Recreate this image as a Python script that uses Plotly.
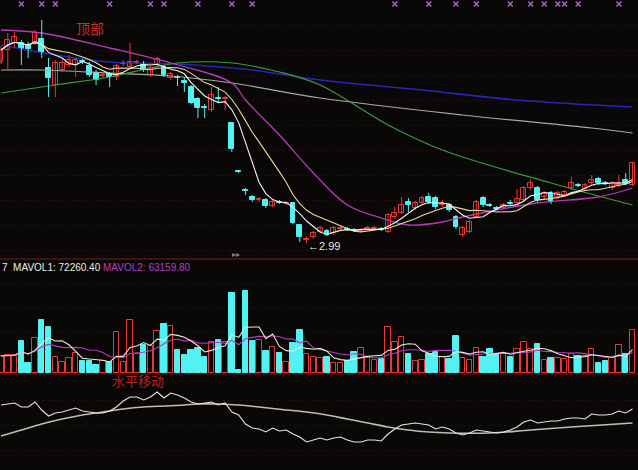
import plotly.graph_objects as go
import pandas as pd

# ---------------- data ----------------
days = list(range(94))

open_ = [4.80, 4.92, 4.99, 4.99, 4.97, 4.99, 5.03, 4.74, 4.57, 4.72,
         4.77, 4.77, 4.81, 4.76, 4.69, 4.66, 4.68, 4.65, 4.78, 4.75,
         4.79, 4.78, 4.67, 4.77, 4.75, 4.64, 4.65, 4.61, 4.55, 4.43,
         4.35, 4.32, 4.44, 4.43, 4.19, 3.71, 3.52, 3.45, 3.42, 3.42,
         3.36, 3.40, 3.38, 3.39, 3.17, 3.02, 3.05, 3.10, 3.11, 3.09,
         3.13, 3.13, 3.12, 3.11, 3.13, 3.13, 3.13, 3.10, 3.25, 3.29,
         3.40, 3.34, 3.39, 3.45, 3.44, 3.37, 3.37, 3.25, 3.07, 3.10,
         3.25, 3.44, 3.37, 3.34, 3.34, 3.39, 3.39, 3.42, 3.54, 3.54,
         3.45, 3.49, 3.45, 3.47, 3.54, 3.57, 3.53, 3.59, 3.63, 3.59,
         3.54, 3.57, 3.62, 3.57]
high = [4.96, 5.09, 5.10, 5.02, 5.00, 5.12, 5.22, 4.84, 4.82, 4.82,
        4.87, 4.84, 4.83, 4.80, 4.72, 4.70, 4.70, 4.78, 4.82, 4.99,
        4.82, 4.81, 4.76, 4.85, 4.77, 4.70, 4.67, 4.64, 4.57, 4.45,
        4.38, 4.55, 4.55, 4.46, 4.20, 3.71, 3.54, 3.47, 3.45, 3.44,
        3.42, 3.42, 3.41, 3.40, 3.18, 3.06, 3.11, 3.16, 3.13, 3.16,
        3.16, 3.15, 3.14, 3.13, 3.16, 3.16, 3.15, 3.29, 3.35, 3.45,
        3.44, 3.41, 3.46, 3.49, 3.46, 3.42, 3.39, 3.27, 3.16, 3.22,
        3.42, 3.46, 3.39, 3.36, 3.39, 3.42, 3.53, 3.56, 3.63, 3.56,
        3.51, 3.51, 3.51, 3.52, 3.65, 3.59, 3.59, 3.67, 3.65, 3.61,
        3.61, 3.67, 3.69, 3.80]
low = [4.78, 4.72, 4.94, 4.77, 4.84, 4.97, 4.84, 4.45, 4.45, 4.70,
       4.75, 4.65, 4.78, 4.65, 4.57, 4.64, 4.55, 4.62, 4.76, 4.74,
       4.78, 4.70, 4.65, 4.75, 4.65, 4.62, 4.56, 4.50, 4.38, 4.24,
       4.24, 4.30, 4.39, 4.32, 3.90, 3.69, 3.47, 3.40, 3.40, 3.34,
       3.35, 3.38, 3.37, 3.18, 3.00, 2.99, 3.03, 3.09, 3.06, 3.07,
       3.12, 3.11, 3.10, 3.10, 3.12, 3.12, 3.11, 3.09, 3.23, 3.28,
       3.30, 3.32, 3.37, 3.38, 3.33, 3.35, 3.30, 3.13, 3.05, 3.09,
       3.24, 3.35, 3.35, 3.32, 3.33, 3.37, 3.38, 3.41, 3.52, 3.40,
       3.43, 3.38, 3.43, 3.45, 3.52, 3.55, 3.51, 3.57, 3.57, 3.57,
       3.52, 3.55, 3.57, 3.56]
close = [4.92, 5.02, 5.05, 4.93, 4.93, 5.09, 4.89, 4.64, 4.79, 4.79,
         4.82, 4.82, 4.80, 4.67, 4.62, 4.67, 4.65, 4.76, 4.79, 4.80,
         4.80, 4.72, 4.74, 4.83, 4.67, 4.68, 4.64, 4.59, 4.39, 4.34,
         4.34, 4.47, 4.43, 4.44, 3.93, 3.70, 3.51, 3.42, 3.43, 3.36,
         3.40, 3.39, 3.39, 3.19, 3.05, 3.03, 3.09, 3.14, 3.07, 3.14,
         3.14, 3.12, 3.11, 3.12, 3.14, 3.14, 3.12, 3.27, 3.29, 3.37,
         3.37, 3.39, 3.44, 3.40, 3.35, 3.38, 3.32, 3.15, 3.14, 3.20,
         3.40, 3.37, 3.36, 3.33, 3.37, 3.38, 3.43, 3.54, 3.59, 3.42,
         3.49, 3.40, 3.49, 3.50, 3.59, 3.56, 3.57, 3.62, 3.59, 3.58,
         3.59, 3.58, 3.59, 3.79]
volume = [52530, 55620, 55620, 98880, 30900, 108150, 163770, 142140, 49440, 33990,
          46350, 61800, 37080, 37080, 24720, 37080, 33990, 126690, 33990, 163770,
          58710, 86520, 83430, 129780, 151410, 145230, 71070, 55620, 71070, 77250,
          49440, 95790, 101970, 95790, 247200, 9270, 253380, 98880, 101970, 67980,
          80340, 61800, 33990, 92700, 132870, 58710, 49440, 46350, 49440, 30900,
          30900, 37080, 64890, 77250, 46350, 40170, 43260, 142140, 95790, 111240,
          58710, 37080, 40170, 58710, 64890, 49440, 43260, 114330, 46350, 40170,
          77250, 49440, 74160, 58710, 58710, 49440, 74160, 95790, 74160, 89610,
          40170, 46350, 46350, 43260, 58710, 52530, 52530, 74160, 32366, 37080,
          46350, 86520, 58710, 132642]

# longer moving averages (at selected days)
ma30_day = [0, 6, 16, 25, 34, 36, 41, 46, 51, 56, 60, 65, 68, 79, 88, 93]
ma30_val = [5.12, 5.09, 4.94, 4.79, 4.59, 4.42, 4.07, 3.69, 3.37, 3.24, 3.17, 3.20, 3.25, 3.39, 3.45, 3.54]
ma60_day = [0, 8, 16, 22, 26, 34, 41, 47, 57, 65, 81, 93]
ma60_val = [4.49, 4.57, 4.65, 4.74, 4.79, 4.79, 4.70, 4.57, 4.17, 3.92, 3.59, 3.37]
ma120_day = [0, 8, 16, 26, 37, 47, 62, 76, 93]
ma120_val = [4.97, 4.87, 4.80, 4.78, 4.72, 4.62, 4.52, 4.42, 4.35]
ma250_day = [0, 6, 16, 25, 34, 47, 68, 87, 93]
ma250_val = [4.72, 4.72, 4.69, 4.66, 4.59, 4.44, 4.27, 4.14, 4.09]

# signal marks along the top
signal_days = [3, 6, 8, 16, 22, 24, 29, 34, 37, 58, 63, 67, 70, 75, 78, 80, 82, 83, 85, 91]
signal_level = 5.38

# lower indicator
osc = [65, 66, 67, 63, 63, 68, 60, 54, 57, 58, 60, 62, 59, 58, 57, 57, 59, 63, 69, 73,
       73, 70, 73, 78, 72, 77, 75, 72, 68, 66, 67, 68, 65, 67, 58, 55, 46, 42, 41, 38,
       42, 39, 40, 36, 33, 28, 30, 32, 30, 32, 33, 30, 28, 28, 30, 30, 29, 36, 41, 45,
       46, 47, 46, 45, 41, 43, 41, 37, 35, 37, 40, 39, 38, 37, 38, 40, 43, 48, 50, 47,
       48, 49, 49, 51, 52, 52, 51, 56, 55, 55, 56, 59, 57, 61]
osc_ma_day = [0, 3, 6, 9, 12, 15, 18, 21, 24, 27, 29, 32, 35, 38, 42, 45, 48, 51, 54, 57, 60, 63, 66, 72, 78, 84, 93]
osc_ma_val = [34, 40, 46, 51, 55, 58, 61, 63, 64, 65, 66, 66, 65, 63, 60, 58, 55, 51, 47, 43, 40, 38, 37, 37, 40, 43, 47]

# ---------------- styling ----------------
BG = "#0a0707"
RED = "#e83838"
CYAN = "#52f2f2"
FONT = "Liberation Sans, Arial, sans-serif"
CJK = "Noto Sans CJK SC, sans-serif"

cs = pd.Series(close)
ma5 = cs.rolling(5, min_periods=1).mean()
ma10 = cs.rolling(10, min_periods=1).mean()
vs = pd.Series(volume)
mavol1 = vs.rolling(5, min_periods=1).mean()
mavol2 = vs.rolling(10, min_periods=1).mean()
up = [c >= o for o, c in zip(open_, close)]

fig = go.Figure()

# price panel: long moving averages
for d, v, col, w in [(ma250_day, ma250_val, "#a9a9a9", 1.2),
                     (ma120_day, ma120_val, "#2626b8", 1.6),
                     (ma60_day, ma60_val, "#3e9a3e", 1.2),
                     (ma30_day, ma30_val, "#b23cb8", 1.3)]:
    fig.add_trace(go.Scatter(x=d, y=v, mode="lines", line=dict(color=col, width=w, shape="spline"),
                             xaxis="x", yaxis="y", hoverinfo="skip"))

# candles: wicks then bodies
for flag, col in [(True, RED), (False, CYAN)]:
    wx, wy = [], []
    for i, o, h, l, c, u in zip(days, open_, high, low, close, up):
        if u == flag:
            wx += [i, i, None]
            wy += [l, h, None]
    fig.add_trace(go.Scatter(x=wx, y=wy, mode="lines", line=dict(color=col, width=1),
                             xaxis="x", yaxis="y", hoverinfo="skip"))

fig.add_trace(go.Bar(
    x=days, y=[abs(c - o) for o, c in zip(open_, close)],
    base=[min(o, c) for o, c in zip(open_, close)], width=0.72,
    marker=dict(color=[BG if u else CYAN for u in up],
                line=dict(color=[RED if u else CYAN for u in up], width=1)),
    xaxis="x", yaxis="y", hoverinfo="skip"))

fig.add_trace(go.Scatter(x=days, y=ma10, mode="lines", line=dict(color="#e6dca0", width=1.1),
                         xaxis="x", yaxis="y", hoverinfo="skip"))
fig.add_trace(go.Scatter(x=days, y=ma5, mode="lines", line=dict(color="#f4f4f4", width=1.1),
                         xaxis="x", yaxis="y", hoverinfo="skip"))

fig.add_trace(go.Scatter(x=signal_days, y=[signal_level] * len(signal_days), mode="markers",
                         marker=dict(symbol="x-thin", size=5, line=dict(color="#a466c4", width=1.5)),
                         xaxis="x", yaxis="y", hoverinfo="skip"))

# volume panel
fig.add_trace(go.Bar(
    x=days, y=volume, width=0.8,
    marker=dict(color=[BG if u else CYAN for u in up],
                line=dict(color=[RED if u else CYAN for u in up], width=1)),
    xaxis="x2", yaxis="y2", hoverinfo="skip"))
fig.add_trace(go.Scatter(x=days, y=mavol2, mode="lines", line=dict(color="#b040c0", width=1.1),
                         xaxis="x2", yaxis="y2", hoverinfo="skip"))
fig.add_trace(go.Scatter(x=days, y=mavol1, mode="lines", line=dict(color="#ecead8", width=1.1),
                         xaxis="x2", yaxis="y2", hoverinfo="skip"))

# indicator panel
fig.add_trace(go.Scatter(x=osc_ma_day, y=osc_ma_val, mode="lines",
                         line=dict(color="#bdbdb2", width=1.6, shape="spline"),
                         xaxis="x3", yaxis="y3", hoverinfo="skip"))
fig.add_trace(go.Scatter(x=days, y=osc, mode="lines", line=dict(color="#e4e4e4", width=1.1),
                         xaxis="x3", yaxis="y3", hoverinfo="skip"))

xr = [-0.15, 93.81]
xcommon = dict(range=xr, showgrid=False, zeroline=False, showticklabels=False, showline=False,
               fixedrange=True)
GRID = "#221010"

imin = low.index(min(low))
annotations = [
    dict(text="顶部", x=90 / 638, y=1 - 28 / 470, xref="paper", yref="paper", showarrow=False,
         font=dict(family=CJK, size=14, color="#d02a2a"), xanchor="center", yanchor="middle"),
    dict(text="水平移动", x=138 / 638, y=1 - 380 / 470, xref="paper", yref="paper", showarrow=False,
         font=dict(family=CJK, size=13, color="#b82020"), xanchor="center", yanchor="middle"),
    dict(text="\u2190" + f"{min(low):.2f}", x=imin, y=min(low), xref="x", yref="y", showarrow=False,
         font=dict(family=FONT, size=11, color="#e6e6e6"), xanchor="left", yanchor="middle",
         xshift=-1, yshift=-3),
    dict(text="\u25B8\u25B8", x=34.6, y=2.875, xref="x", yref="y", showarrow=False,
         font=dict(family=FONT, size=8, color="#8a7aa8"), xanchor="center", yanchor="middle"),
    dict(text=f"7  MAVOL1: {mavol1.iloc[-1]:.2f}", x=0, y=1 - 267 / 470, xref="paper", yref="paper",
         showarrow=False, font=dict(family=FONT, size=10, color="#ececec"),
         xanchor="left", yanchor="middle"),
    dict(text=f"MAVOL2: {mavol2.iloc[-1]:.2f}", x=101 / 638, y=1 - 267 / 470, xref="paper", yref="paper",
         showarrow=False, font=dict(family=FONT, size=10, color="#b040c0"),
         xanchor="left", yanchor="middle"),
]

shapes = [
    dict(type="line", xref="paper", yref="paper", x0=0, x1=1, y0=1 - 259 / 470, y1=1 - 259 / 470,
         line=dict(color="#7a1c1c", width=1)),
    dict(type="line", xref="paper", yref="paper", x0=0, x1=1, y0=1 - 374 / 470, y1=1 - 374 / 470,
         line=dict(color="#6a1616", width=1)),
]

fig.update_layout(
    width=638, height=470, margin=dict(l=0, r=0, t=0, b=0),
    paper_bgcolor=BG, plot_bgcolor=BG, showlegend=False, bargap=0,
    xaxis=dict(**xcommon, anchor="y"),
    xaxis2=dict(**xcommon, anchor="y2"),
    xaxis3=dict(**xcommon, anchor="y3"),
    yaxis=dict(domain=[1 - 258 / 470, 1], range=[2.84, 5.42], showticklabels=False, zeroline=False,
               showgrid=True, gridcolor=GRID, griddash="dot", gridwidth=1, tick0=5.17, dtick=0.25,
               fixedrange=True),
    yaxis2=dict(domain=[1 - 373 / 470, 1 - 260 / 470], range=[0, 349170], showticklabels=False,
                zeroline=False, showgrid=True, gridcolor=GRID, griddash="dot", tick0=55620, dtick=74160,
                fixedrange=True),
    yaxis3=dict(domain=[0, 1 - 376 / 470], range=[0, 94], showticklabels=False, zeroline=False,
                showgrid=True, gridcolor=GRID, griddash="dot", tick0=20, dtick=25, fixedrange=True),
    annotations=annotations, shapes=shapes,
)

fig.write_html("out.html", config={"displayModeBar": False},
               post_script="document.body.style.margin='0';document.body.style.background='%s';" % BG)
